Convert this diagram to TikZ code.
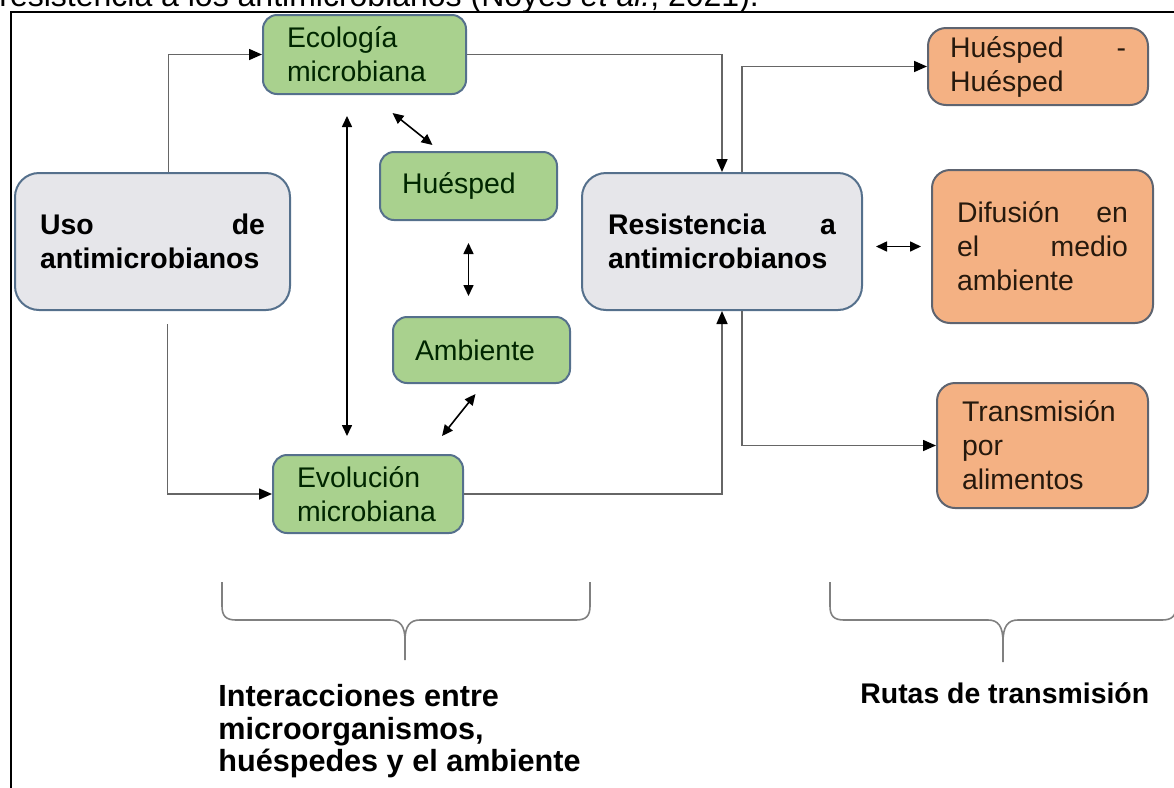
\documentclass[tikz,border=0pt]{standalone}
\usepackage{fontspec}
\setmainfont{Liberation Sans}
\usetikzlibrary{arrows.meta,calc}

\definecolor{boxgreen}{HTML}{A9D18E}
\definecolor{boxorange}{HTML}{F4B183}
\definecolor{boxgray}{HTML}{E6E6EA}
\definecolor{edgeblue}{HTML}{55708C}
\definecolor{edgegray}{HTML}{5E6470}
\definecolor{linegray}{HTML}{666666}

\begin{document}
\begin{tikzpicture}[x=0.5pt, y=-0.5pt,
    box/.style={line width=1pt, align=left, inner xsep=0pt, font=\fontsize{14.2pt}{17pt}\selectfont},
    greenbox/.style={box, draw=edgeblue, fill=boxgreen, rounded corners=7pt, text=black!85!green},
    graybox/.style={box, draw=edgeblue, fill=boxgray, rounded corners=12pt, font=\fontsize{14.2pt}{17pt}\selectfont\bfseries},
    orangebox/.style={box, draw=edgegray, fill=boxorange, rounded corners=9pt, text=black!80!brown},
    link/.style={draw=linegray, line width=0.8pt, -{Triangle[length=6.5pt,width=5.5pt,color=black]}},
    both/.style={line width=0.8pt, {Triangle[length=5.5pt,width=5pt]}-{Triangle[length=5.5pt,width=5pt]}},
    brace/.style={draw=gray, line width=0.8pt},
]
    \useasboundingbox (0,0) rectangle (1174,788);

    % Caption line cut off by the page
    \node[anchor=base west, inner sep=0pt, font=\fontsize{16pt}{19pt}\selectfont] (cap) at (-1,6) {resistencia a los antimicrobianos (Noyes \textit{et al.}, 2021).};

    % Frame
    \draw[line width=1pt] (11,800) -- (11,12) -- (1180,12);

    % Gray boxes
    \node[graybox, minimum width=137.5pt, minimum height=68.5pt, text width=112.5pt] (uso) at (152.5,241.5) {Uso \hfill de\\antimicrobianos};
    \node[graybox, minimum width=140pt, minimum height=68.5pt, text width=114pt] (res) at (722,241.5) {Resistencia \hfill a\\antimicrobianos};

    % Green boxes
    \node[greenbox, minimum width=101.5pt, minimum height=39.5pt, text width=77.5pt] (eco) at (364.5,54.5) {Ecología\\microbiana};
    \node[greenbox, minimum width=88.5pt, minimum height=34pt, text width=66.5pt] (hue) at (468.5,186) {Huésped};
    \node[greenbox, minimum width=88.5pt, minimum height=33pt, text width=66.5pt] (amb) at (481.5,350) {Ambiente};
    \node[greenbox, minimum width=95pt, minimum height=39pt, text width=71pt] (evo) at (368,494) {Evolución\\microbiana};

    % Orange boxes
    \node[orangebox, minimum width=110pt, minimum height=38.5pt, text width=88pt] (hh) at (1038,66.5) {Huésped \hfill -\\Huésped};
    \node[orangebox, minimum width=110.5pt, minimum height=76.5pt, text width=85.5pt] (dif) at (1042.5,246.5) {Difusión \hfill en\\el \hfill medio\\ambiente};
    \node[orangebox, minimum width=105.5pt, minimum height=62.5pt, text width=80.5pt] (tra) at (1042.5,445.5) {Transmisión\\por\\alimentos};

    % Connectors
    \coordinate (vx) at (347,0);
    \draw[link] ($(uso.north)+(16,0)$) |- (eco.west);
    \draw[link] ($(uso.south)+(15,13)$) |- (evo.west);
    \draw[link] (eco.east) -| (res.north);
    \draw[link] (evo.east) -| (res.south);
    \draw[link] ($(res.north)+(20,0)$) |- (hh.west);
    \draw[link] ($(res.south)+(20,0)$) |- (tra.west);

    % Two-way arrows
    \draw[both, shorten <=10.5pt, shorten >=9pt] (eco.south -| vx) -- (evo.north -| vx);
    \draw[both] ($(eco.south)+(28,18)$) -- ($(hue.north)+(-36,-6)$);
    \draw[both, shorten <=11pt, shorten >=10pt] (hue.south) -- (hue.south |- amb.north);
    \draw[both] ($(amb.south)+(-6,10)$) -- ($(evo.north)+(74,-18)$);
    \draw[both, shorten <=6.5pt, shorten >=5pt] (res.east |- dif.west) -- (dif.west);

    % Braces
    \draw[brace] (222,582) -- (222,606) .. controls (222,616) and (226,620) .. (236,620) -- (390,620) .. controls (400,620) and (405,626) .. (405,640) -- (405,660);
    \draw[brace] (405,640) .. controls (405,626) and (410,620) .. (420,620) -- (576,620) .. controls (586,620) and (590,616) .. (590,606) -- (590,582);
    \draw[brace] (830,582) -- (830,606) .. controls (830,616) and (834,620) .. (844,620) -- (988,620) .. controls (998,620) and (1003,626) .. (1003,642) -- (1003,662);
    \draw[brace] (1003,642) .. controls (1003,626) and (1008,620) .. (1018,620) -- (1162,620) .. controls (1172,620) and (1176,616) .. (1176,606) -- (1176,582);

    % Brace labels
    \node[anchor=north west, align=left, inner sep=0pt, font=\fontsize{15.3pt}{16.3pt}\selectfont\bfseries] (inter) at (218,684) {Interacciones entre\\microorganismos,\\huéspedes y el ambiente};
    \node[anchor=north west, inner sep=0pt, font=\fontsize{14.2pt}{17pt}\selectfont\bfseries] (rutas) at (860,682) {Rutas de transmisión};

\end{tikzpicture}
\end{document}
